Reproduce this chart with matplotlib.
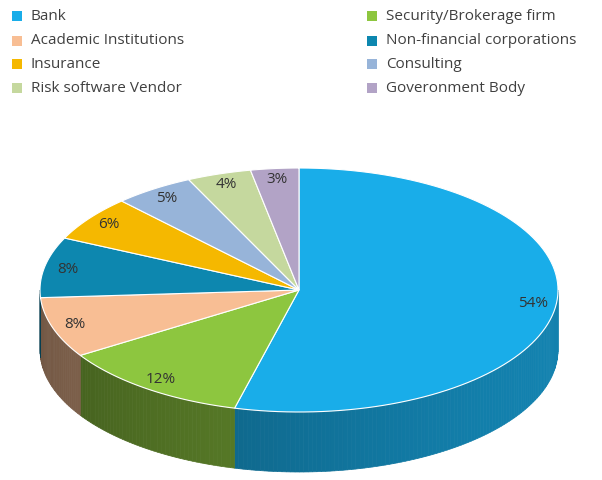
import numpy as np
import matplotlib.pyplot as plt
from matplotlib.patches import Polygon, Rectangle
from matplotlib.colors import to_rgb

categories = ["Bank", "Security/Brokerage firm", "Academic Institutions",
              "Non-financial corporations", "Insurance", "Consulting",
              "Risk software Vendor", "Goveronment Body"]
values = [54, 12, 8, 8, 6, 5, 4, 3]
colors = ["#19ADE9", "#8DC63F", "#F8BE94", "#0D87AF", "#F5B800",
          "#97B4D9", "#C5D89E", "#B2A3C6"]
legend_order = [0, 1, 2, 3, 4, 5, 6, 7]

W, H = 602, 480
cx, cy, rx, ry, depth = 299, 290, 259, 122, 60

fig = plt.figure(figsize=(W / 100, H / 100), dpi=100)
ax = fig.add_axes([0, 0, 1, 1])
ax.set_xlim(0, W)
ax.set_ylim(H, 0)
ax.axis("off")


def pt(t):
    return cx + rx * np.cos(t), cy + ry * np.sin(t)


fracs = np.array(values) / sum(values)
starts = -np.pi / 2 + 2 * np.pi * np.concatenate([[0], np.cumsum(fracs)[:-1]])
ends = starts + 2 * np.pi * fracs

# side walls (front half only), shaded strips
for s, e, c in zip(starts, ends, colors):
    base = np.array(to_rgb(c))
    for lo, hi in [(s, e), (s - 2 * np.pi, e - 2 * np.pi)]:
        a, b = max(lo, 0), min(hi, np.pi)
        if b <= a:
            continue
        ts = np.linspace(a, b, max(int((b - a) * 60), 2))
        for t0, t1 in zip(ts[:-1], ts[1:]):
            tm = (t0 + t1) / 2
            shade = 0.6 + 0.15 * np.cos(tm - 0.3)
            col = np.clip(base * shade, 0, 1)
            x0, y0 = pt(t0)
            x1, y1 = pt(t1)
            ax.add_patch(Polygon([(x0, y0), (x1, y1), (x1, y1 + depth), (x0, y0 + depth)],
                                 closed=True, facecolor=col, edgecolor=col, lw=0.5))

# top face
for s, e, c in zip(starts, ends, colors):
    ts = np.linspace(s, e, 100)
    xs, ys = pt(ts)
    verts = [(cx, cy)] + list(zip(xs, ys))
    ax.add_patch(Polygon(verts, closed=True, facecolor=c, edgecolor="white", lw=0.8))

# labels
for s, e, v in zip(starts, ends, values):
    tm = (s + e) / 2
    r = 0.91
    ax.text(cx + r * rx * np.cos(tm), cy + r * ry * np.sin(tm), f"{v}%",
            ha="center", va="center", fontsize=11, color="#333333",
            family="Open Sans")

# legend
rows = [16, 41, 64, 88]
for i, idx in enumerate(legend_order):
    col, row = i % 2, i // 2
    mx = 12 if col == 0 else 367
    y = rows[row]
    ax.add_patch(Rectangle((mx, y - 5), 10, 10, facecolor=colors[idx], edgecolor="none"))
    ax.text(mx + 19, y, categories[idx], ha="left", va="center", fontsize=11,
            color="#404040", family="Open Sans")

fig.savefig("out.png", dpi=100)
